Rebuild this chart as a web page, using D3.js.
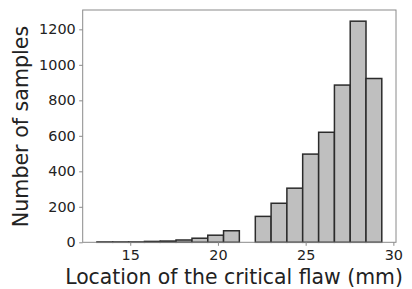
<!DOCTYPE html>
<html>
<head>
<meta charset="utf-8">
<script src="https://cdn.jsdelivr.net/npm/d3@7"></script>
<style>
  body { margin: 0; background: #fff; }
  svg { display: block; }
  text { font-family: "DejaVu Sans", sans-serif; fill: #222; }
</style>
</head>
<body>
<svg id="chart" width="412" height="289"></svg>
<script>
// histogram bin edges (mm) and counts per bin
var binEdges = [13.10, 14.00, 14.91, 15.81, 16.71, 17.61, 18.52, 19.42, 20.32, 21.22,
                22.13, 23.03, 23.93, 24.83, 25.74, 26.64, 27.54, 28.44, 29.34];
var counts = [2, 2, 2, 5, 7, 13, 23, 40, 65, 0,
              146, 220, 305, 497, 620, 886, 1246, 923];
var xTicks = [15, 20, 25, 30];
var yTicks = [0, 200, 400, 600, 800, 1000, 1200];
var xLabel = "Location of the critical flaw (mm)";
var yLabel = "Number of samples";

var svg = d3.select("#chart");
var plotL = 82.7, plotR = 396, plotT = 10, plotB = 242.3;

var x = d3.scaleLinear().domain([12.29, 30.15]).range([plotL, plotR]);
var y = d3.scaleLinear().domain([0, 1309]).range([plotB, plotT]);

var bins = counts.map(function(c, i) {
    return { x0: binEdges[i], x1: binEdges[i + 1], n: c };
});

// bars
svg.append("g")
    .selectAll("rect")
    .data(bins)
    .enter()
    .append("rect")
    .attr("x", function(d) { return x(d.x0); })
    .attr("y", function(d) { return y(d.n); })
    .attr("width", function(d) { return x(d.x1) - x(d.x0); })
    .attr("height", function(d) { return y(0) - y(d.n); })
    .attr("fill", "#bfbfbf")
    .attr("stroke", "#2b2b2b")
    .attr("stroke-width", 1.5);

// frame
svg.append("rect")
    .attr("x", plotL).attr("y", plotT)
    .attr("width", plotR - plotL).attr("height", plotB - plotT)
    .attr("fill", "none")
    .attr("stroke", "#8a8a8a")
    .attr("stroke-width", 1);

// axes
var xAxis = svg.append("g")
    .attr("transform", "translate(0," + plotB + ")")
    .call(d3.axisBottom(x).tickValues(xTicks).tickSize(3.5).tickPadding(3.5));
var yAxis = svg.append("g")
    .attr("transform", "translate(" + plotL + ",0)")
    .call(d3.axisLeft(y).tickValues(yTicks).tickSize(3.5).tickPadding(3.5).tickFormat(d3.format("d")));

[xAxis, yAxis].forEach(function(a) {
    a.select(".domain").remove();
    a.selectAll(".tick line").attr("stroke", "#8a8a8a");
    a.selectAll(".tick text")
        .attr("font-family", "DejaVu Sans")
        .attr("font-size", 14.4)
        .attr("fill", "#222");
});

// labels
svg.append("text")
    .attr("x", 234)
    .attr("y", 284.3)
    .attr("text-anchor", "middle")
    .attr("font-size", 20.4)
    .text(xLabel);

svg.append("text")
    .attr("transform", "translate(27.7,126.5) rotate(-90)")
    .attr("text-anchor", "middle")
    .attr("font-size", 20.6)
    .text(yLabel);
</script>
</body>
</html>
